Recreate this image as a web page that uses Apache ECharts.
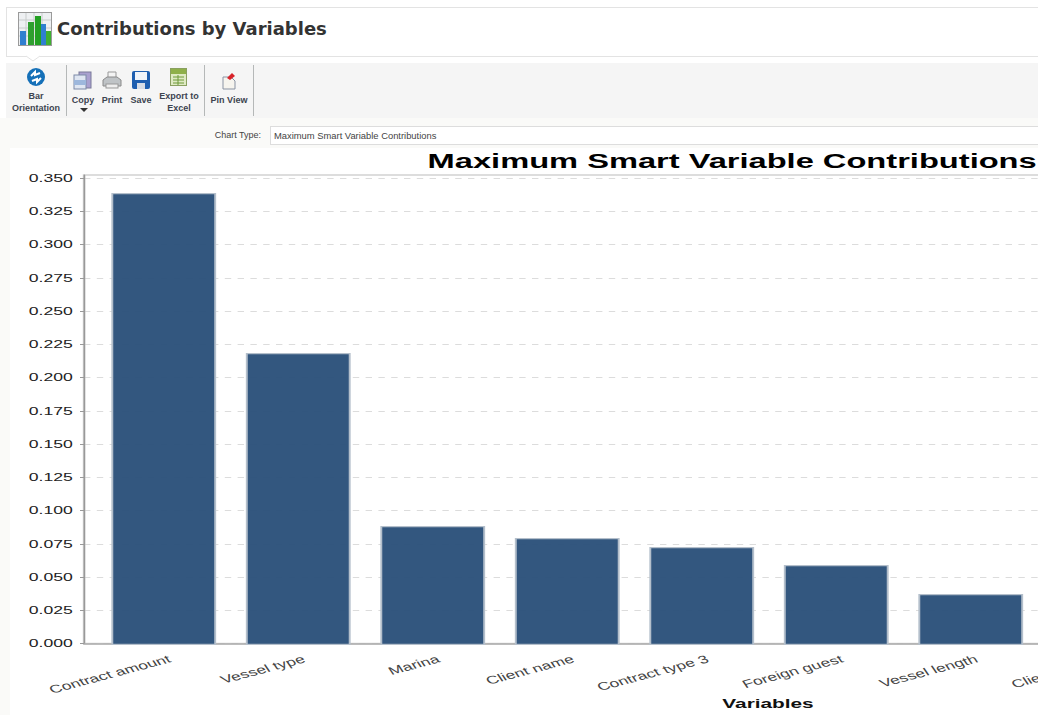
<!DOCTYPE html>
<html><head><meta charset="utf-8">
<style>
html,body{margin:0;padding:0;width:1038px;height:715px;overflow:hidden;background:#fff;font-family:"Liberation Sans",Arial,sans-serif}
.a{position:absolute}
#head{left:6px;top:7px;width:1040px;height:48px;border:1px solid #e3e3e3;background:#fff}
#htitle{left:57px;top:18px;font:bold 18px "DejaVu Sans";color:#333;white-space:nowrap}
#strip{left:0;top:118px;width:1038px;height:597px;background:#fafaf8}
#tool{left:6px;top:63px;width:1032px;height:55px;background:#f5f5f5}
.sep{width:1px;top:65px;height:51px;background:#b5b8b8}
.tb{font:bold 9px/12px "Liberation Sans";color:#3d4450;text-align:center;white-space:nowrap;transform:translateX(-50%)}
#ctl{right:777px;top:130px;font:9px "Liberation Sans";color:#444}
#cbox{left:270px;top:126px;width:780px;height:17px;border:1px solid #ddd;background:#fff;font:9.4px/17px "Liberation Sans";color:#444;padding-left:3px;box-sizing:content-box}
#wrap{left:10px;top:148px;width:1028px;height:567px;overflow:hidden;background:#fff}
#chart{width:925px;height:567px;transform:scaleX(1.6);transform-origin:0 0}
</style></head>
<body>
<div class="a" id="strip"></div>
<div class="a" id="head"></div>
<svg class="a" style="left:18px;top:12px" width="34" height="34" viewBox="0 0 34 34">
<rect x=".5" y=".5" width="33" height="33" fill="#eef0f2" stroke="#9a9a9a"/>
<path d="M1 8H33M1 16H33M1 24H33M8 1V33M16 1V33M24 1V33" stroke="#c8cccc" stroke-width="1"/>
<rect x="2" y="19" width="6" height="14" fill="#2f7fd0"/><rect x="10" y="10" width="6" height="23" fill="#2f9f2f"/>
<rect x="17" y="4" width="6" height="29" fill="#23a023"/>
<rect x="23" y="12" width="5" height="21" fill="#2f7fd0"/><rect x="28" y="19" width="5" height="14" fill="#3fb030"/>
</svg>
<div class="a" id="htitle">Contributions by Variables</div>
<svg class="a" style="left:26px;top:55px" width="14" height="7"><path d="M0 1L7 6L14 1" fill="#fff" stroke="#e3e3e3"/></svg>
<div class="a" id="tool"></div>
<div class="a sep" style="left:66px"></div><div class="a sep" style="left:204px"></div><div class="a sep" style="left:253px"></div>
<svg class="a" style="left:26px;top:67px" width="20" height="20"><circle cx="10" cy="10" r="9" fill="#1570b8"/><path d="M5 9L9 5L9 8L14 6M15 11L11 15L11 12L6 14" stroke="#fff" stroke-width="2" fill="none"/></svg>
<svg class="a" style="left:73px;top:71px" width="20" height="19"><rect x="6" y="1" width="12" height="16" fill="#a9a0cf" stroke="#7a7a9a"/><rect x="1" y="4" width="12" height="14" fill="#dfe6f2" stroke="#7d8aa8"/><rect x="1" y="9" width="12" height="5" fill="#9db7dc"/></svg>
<svg class="a" style="left:102px;top:71px" width="20" height="19"><path d="M6 1H14V8H6Z" fill="#f4f4f4" stroke="#999"/><path d="M1 9L5 6H15L19 9V15H1Z" fill="#bfc3c6" stroke="#8a8a8a"/><rect x="4" y="13" width="12" height="4" fill="#eee" stroke="#999"/></svg>
<svg class="a" style="left:132px;top:71px" width="18" height="18"><rect x="0" y="0" width="18" height="18" rx="2" fill="#1f5fb0"/><rect x="3" y="1" width="12" height="8" fill="#f0f4fa"/><rect x="5" y="12" width="8" height="6" fill="#d8dde6"/></svg>
<svg class="a" style="left:170px;top:68px" width="17" height="18"><rect x=".5" y=".5" width="16" height="17" fill="#dfeac4" stroke="#8aa060"/><rect x="1" y="1" width="15" height="5" fill="#8fb04a"/><path d="M3 9H14M3 12H14M3 15H14M8 7V17" stroke="#6f9a3a"/></svg>
<svg class="a" style="left:221px;top:71px" width="16" height="19"><path d="M2 6H10L14 10V18H2Z" fill="#f6f4ee" stroke="#8a93a3"/><path d="M6 7L11 2L14 5L9 9Z" fill="#d8232a"/></svg>
<div class="a tb" style="left:36px;top:90px">Bar<br>Orientation</div>
<div class="a tb" style="left:83px;top:94px">Copy</div>
<svg class="a" style="left:80px;top:108px" width="8" height="5"><path d="M0 0H8L4 4Z" fill="#333"/></svg>
<div class="a tb" style="left:112px;top:94px">Print</div>
<div class="a tb" style="left:141px;top:94px">Save</div>
<div class="a tb" style="left:179px;top:90px">Export to<br>Excel</div>
<div class="a tb" style="left:229px;top:94px">Pin View</div>
<div class="a" id="ctl">Chart Type:</div>
<div class="a" id="cbox">Maximum Smart Variable Contributions</div>
<div class="a" id="wrap"><div id="chart"></div></div>
<script src="https://cdn.jsdelivr.net/npm/echarts@6/dist/echarts.min.js"></script>
<script>
const categories = ["Contract amount","Vessel type","Marina","Client name","Contract type 3","Foreign guest","Vessel length","Client country"];
const contributions = [0.3388,0.2189,0.0892,0.0802,0.0735,0.0600,0.0382,null];
const yTicks = [0,0.025,0.05,0.075,0.1,0.125,0.15,0.175,0.2,0.225,0.25,0.275,0.3,0.325,0.35];
const chartTitle = "Maximum Smart Variable Contributions";
const xName = "Variables";

const yMax = 0.35232, FF = '"Liberation Sans"';
const chart = echarts.init(document.getElementById('chart'), null, {renderer:'svg'});
chart.setOption({
  animation:false,
  backgroundColor:'#fff',
  title:{text:chartTitle,left:256,top:-2,textStyle:{fontFamily:FF,fontWeight:'bold',fontSize:20.4,color:'#000'}},
  grid:[
    {left:46.25,top:27,width:855,height:470,show:true,borderColor:'#d2d2d2',borderWidth:1.5,backgroundColor:'transparent'},
    {left:54.06,top:27,width:672.5,height:470}
  ],
  xAxis:[
    {gridIndex:0,type:'category',data:categories,
     name:xName,nameLocation:'middle',nameGap:60,
     nameTextStyle:{fontFamily:FF,fontWeight:'bold',fontSize:13,color:'#111',verticalAlign:'middle'},
     axisLine:{lineStyle:{color:'#aaa',width:1.5}},axisTick:{show:false},axisLabel:{show:false}},
    {gridIndex:1,type:'category',data:categories,
     axisLine:{show:false},axisTick:{show:false},
     axisLabel:{interval:0,rotate:23,margin:15,padding:[0,-4,0,0],fontFamily:FF,fontSize:11,color:'#444'}}
  ],
  yAxis:[
    {gridIndex:0,type:'value',min:0,max:yMax,interval:0.025,
     axisLine:{show:true,lineStyle:{color:'#999',width:1}},
     axisTick:{show:true,length:2.5,lineStyle:{color:'#999'},customValues:yTicks},
     axisLabel:{customValues:yTicks,margin:7,fontFamily:FF,fontSize:11,color:'#222',formatter:v=>v.toFixed(3)},
     splitLine:{show:true,lineStyle:{color:'#dcdcdc',type:[4,4],width:1}}},
    {gridIndex:1,type:'value',min:0,max:yMax,show:false,splitLine:{show:false}}
  ],
  series:[{type:'bar',xAxisIndex:1,yAxisIndex:1,data:contributions,barWidth:65.5,
    itemStyle:{color:'rgba(40,78,120,0.95)',borderColor:'#b4bfcb',borderWidth:1.2}}]
});
</script>
</body></html>
